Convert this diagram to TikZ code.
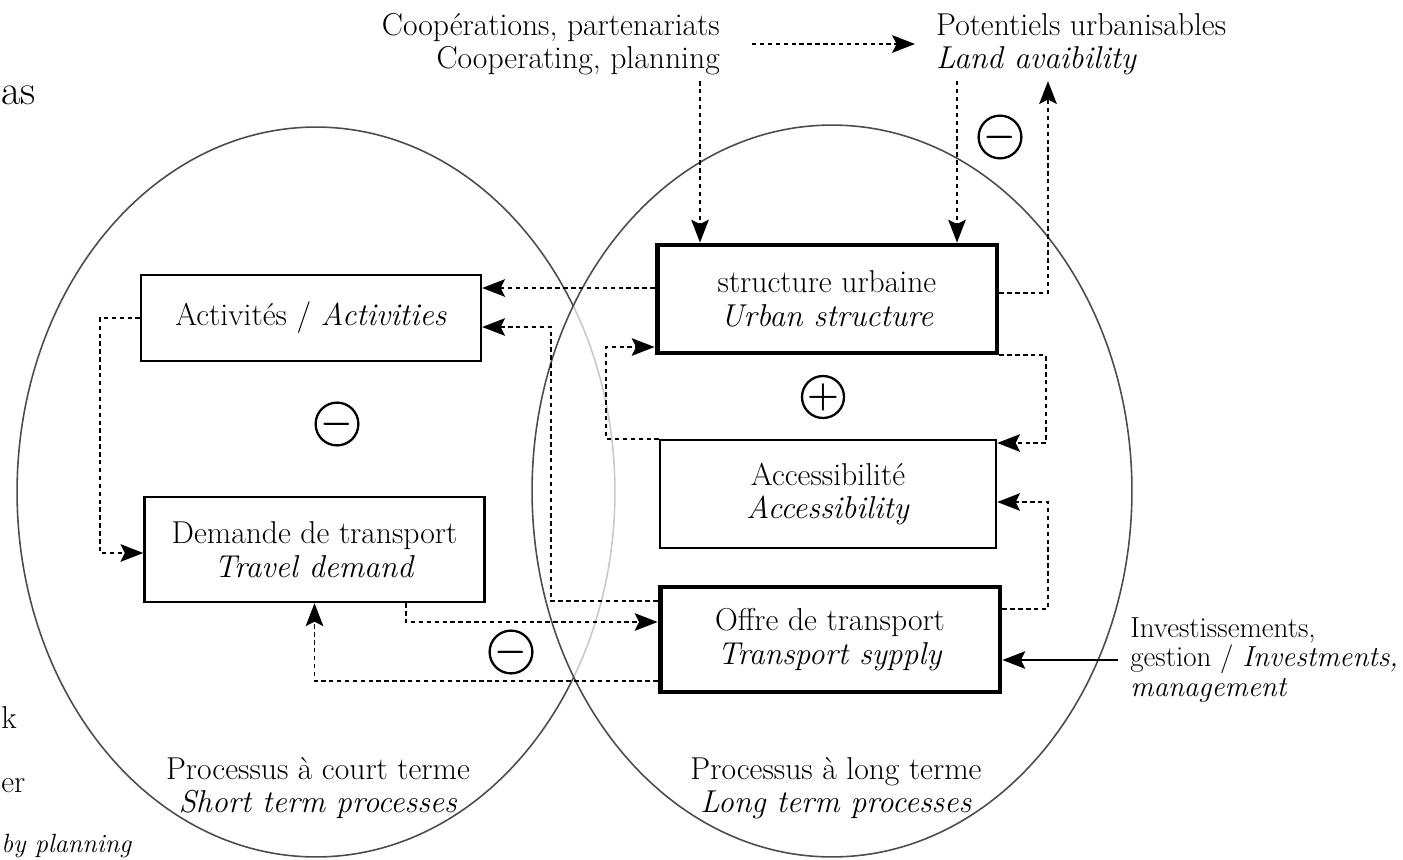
\documentclass[tikz,border=0pt]{standalone}
\usepackage{tikz}
\usetikzlibrary{arrows.meta}

\tikzset{
	box/.style={draw, line width=1.4pt, minimum width=6.8cm, align=center},
	heavybox/.style={box, line width=2.8pt},
	flow/.style={line width=1.1pt, dash pattern=on 2.5pt off 2pt, -{Stealth[length=13pt,width=10pt,inset=2.5pt]}},
	push/.style={line width=1.1pt, -{Stealth[length=13pt,width=10pt,inset=2.5pt]}},
	sign/.style={draw, circle, line width=1.3pt, minimum size=0.84cm, inner sep=0pt, font=\fontsize{22}{22}\selectfont\boldmath},
	zone/.style={draw=black!70, line width=0.9pt},
	cut/.style={inner sep=0pt}
}

\begin{document}
\begin{tikzpicture}[x=0.02cm, y=-0.02cm, font=\fontsize{18}{19}\selectfont]
\useasboundingbox (0,0) rectangle (1403,859);

\draw[zone] (316,492) ellipse [x radius=5.98cm, y radius=7.3cm];
\draw[zone, fill=white, fill opacity=0.7] (832,491) ellipse [x radius=6cm, y radius=7.32cm];

\node[box, minimum height=1.72cm] (act) at (311,318) {Activités / \textit{Activities}};
\node[box, minimum height=2.1cm] (dem) at (314.5,549.5) {Demande de transport\\\textit{Travel demand}};
\node[heavybox, minimum height=2.16cm] (struct) at (827,299) {structure urbaine\\\textit{Urban structure}};
\node[box, minimum height=2.16cm, minimum width=6.72cm] (acc) at (828,494) {Accessibilité\\\textit{Accessibility}};
\node[heavybox, minimum height=2.1cm] (offre) at (830,639.5) {Offre de transport\\\textit{Transport sypply}};

\node[anchor=east, align=right] (coop) at (726,44) {Coopérations, partenariats\\Cooperating, planning};
\node[anchor=west, align=left] (pot) at (930,44) {Potentiels urbanisables\\\textit{Land avaibility}};
\node[anchor=west, align=left, cut, font=\fontsize{16.5}{17}\selectfont] (inv) at (1130,660) {Investissements,\\gestion / \textit{Investments,}\\\textit{management}};

\node[align=center] (court) at (318,788) {Processus à court terme\\\textit{Short term processes}};
\node[align=center] (long) at (836,788) {Processus à long terme\\\textit{Long term processes}};

\node[anchor=west, cut, font=\fontsize{24}{24}\selectfont] (fas) at (1,95) {as};
\node[anchor=west, cut] (fk) at (1,718) {k};
\node[anchor=west, cut] (fer) at (1,786) {er};
\node[anchor=base west, cut, font=\fontsize{15}{15}\selectfont\itshape] (fby) at (1,852) {by planning};

\foreach \n/\x/\y/\s in {m1/337/424/-, m2/511/652/-, m3/1000/137/-, p1/823/397/+}
{
	\node[sign] (\n) at (\x,\y) {$\s$};
};

\draw[flow, shorten <=0.52cm, shorten >=0.3cm] (coop.east) -- (pot.west);
\draw[flow] (coop.south -| 700,0) -- (struct.north -| 700,0);
\draw[flow] (pot.south -| 957,0) -- (struct.north -| 957,0);
\draw[flow] (struct.east |- 0,293) -| (pot.south -| 1048,0);
\draw[flow] (struct.west |- 0,288) -- (act.east |- 0,288);
\draw[flow] (offre.west |- 0,601) -| (551,327) -- (act.east |- 0,327);
\draw[flow] (acc.north west) -| (606,347) -- (struct.west |- 0,347);
\draw[flow] (struct.south east) -| (1046,443) -- (acc.east |- 0,443);
\draw[flow] (offre.east |- 0,609) -| (1048,502) -- (acc.east |- 0,502);
\draw[push, shorten <=0.24cm] (inv.west) -- (offre.east |- inv.west);
\draw[flow] (dem.south -| 406,0) |- (offre.west |- 0,622);
\draw[flow] (offre.west |- 0,681) -| (dem.south);
\draw[flow] (act.west) -| (100,553) -- (dem.west |- 0,553);
\end{tikzpicture}
\end{document}
